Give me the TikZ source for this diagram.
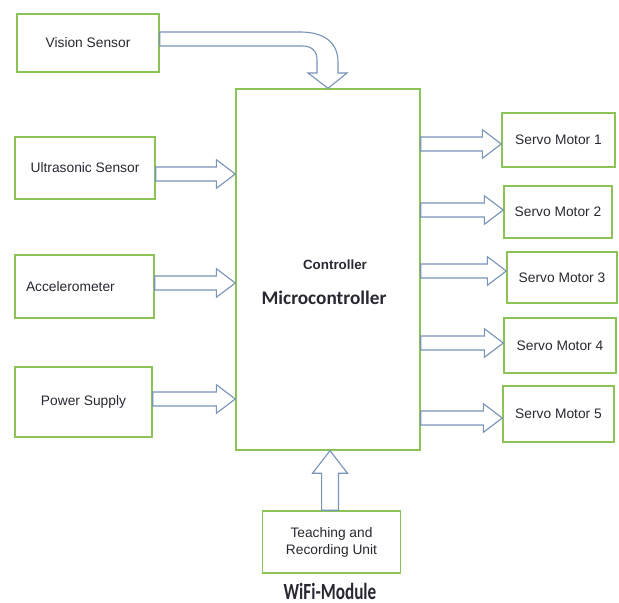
\documentclass[tikz,border=0pt]{standalone}
\usepackage{fontspec}
\setmainfont{Liberation Sans}
\newfontfamily\calibri{Carlito}
\usepackage{graphicx}
\usepackage{tikz}
\usetikzlibrary{calc}

\newcommand\pxu{0.025cm}
\definecolor{boxgreen}{RGB}{140,195,85}
\definecolor{arrowblue}{RGB}{120,148,184}
\definecolor{textgray}{RGB}{40,40,50}

\begin{document}
\begin{tikzpicture}[
        x = \pxu, y = -\pxu,
        every node/.style = {text = textgray, font = \fontsize{9.8}{12}\selectfont},
        box/.style = {draw = boxgreen, line width = 1pt},
        blockline/.style = {draw = arrowblue, line width = 0.8pt, line join = miter},
        harrow/.style = {blockline, to path = {let \p1 = (\tikztostart), \p2 = (\tikztotarget) in
            (\x1,\y1+5pt) -- (\x2-13.5pt,\y1+5pt) -- (\x2-13.5pt,\y1+10.2pt) -- (\x2,\y1)
            -- (\x2-13.5pt,\y1-10.2pt) -- (\x2-13.5pt,\y1-5pt) -- (\x1,\y1-5pt) -- cycle}},
        varrow/.style = {blockline, to path = {let \p1 = (\tikztostart), \p2 = (\tikztotarget) in
            (\x1-6pt,\y1) -- (\x1-6pt,\y2-16pt) -- (\x1-12.4pt,\y2-16pt) -- (\x1,\y2)
            -- (\x1+12.4pt,\y2-16pt) -- (\x1+6pt,\y2-16pt) -- (\x1+6pt,\y1) -- cycle}}
    ]
      \useasboundingbox (0,0) rectangle (619,603);

      % controller block
      \node[box, minimum width = 184*\pxu, minimum height = 361*\pxu] (ctrl) at (328,269.5) {};
      \node[font = \bfseries\fontsize{9.5}{11}\selectfont] (ctrlhead) at (335,265) {Controller};
      \node[font = \calibri\bfseries\fontsize{13.7}{16}\selectfont] (mcu) at (324,298) {Microcontroller};

      % inputs
      \node[box, minimum width = 142*\pxu, minimum height = 58*\pxu] (vis) at (88,43) {Vision Sensor};
      \node[box, minimum width = 140*\pxu, minimum height = 62*\pxu] (us) at (85,168) {Ultrasonic Sensor};
      \node[box, minimum width = 139*\pxu, minimum height = 63*\pxu, text width = 117*\pxu,
            inner xsep = 11*\pxu, align = left] (acc) at (84.5,286.5) {Accelerometer};
      \node[box, minimum width = 137*\pxu, minimum height = 70*\pxu] (pwr) at (83.5,402) {Power Supply};
      \node[box, minimum width = 138*\pxu, minimum height = 62*\pxu, align = center] (teach) at (331.5,542)
            {Teaching and\\Recording Unit};
      \node[font = \calibri\bfseries, inner sep = 0pt] (wifi) at (330,591)
            {\scalebox{0.74}[1]{\fontsize{16.5}{19}\selectfont WiFi-Module}};

      \draw[blockline] (vis.east |- 0,32) -- (300,32) .. controls (326,32) and (338,44) .. (338,62)
            -- (338,73) -- (347,73) -- (ctrl.north -| 328,0) -- (308,73) -- (317,73) -- (317,60)
            .. controls (317,51) and (312,46) .. (302,46) -- (vis.east |- 0,46) -- cycle;
      \draw[harrow] (us.east |- 0,174) to (ctrl.west |- 0,174);
      \draw[harrow] (acc.east |- 0,283) to (ctrl.west |- 0,283);
      \draw[harrow] (pwr.east |- 0,399) to (ctrl.west |- 0,399);
      \draw[varrow] (teach.north -| 330,0) to (ctrl.south -| 330,0);

      % outputs
      \foreach \i/\cx/\cy/\w/\h/\ay in {1/558.5/140/113/54/144, 2/558/212/108/52/210,
            3/562/277.5/110/51/271, 4/560/345.5/112/55/343, 5/558.5/414/111/56/418} {
        \node[box, minimum width = \w*\pxu, minimum height = \h*\pxu] (servo\i) at (\cx,\cy) {Servo Motor \i};
        \draw[harrow] (ctrl.east |- 0,\ay) to (servo\i.west |- 0,\ay);
      }
\end{tikzpicture}
\end{document}
